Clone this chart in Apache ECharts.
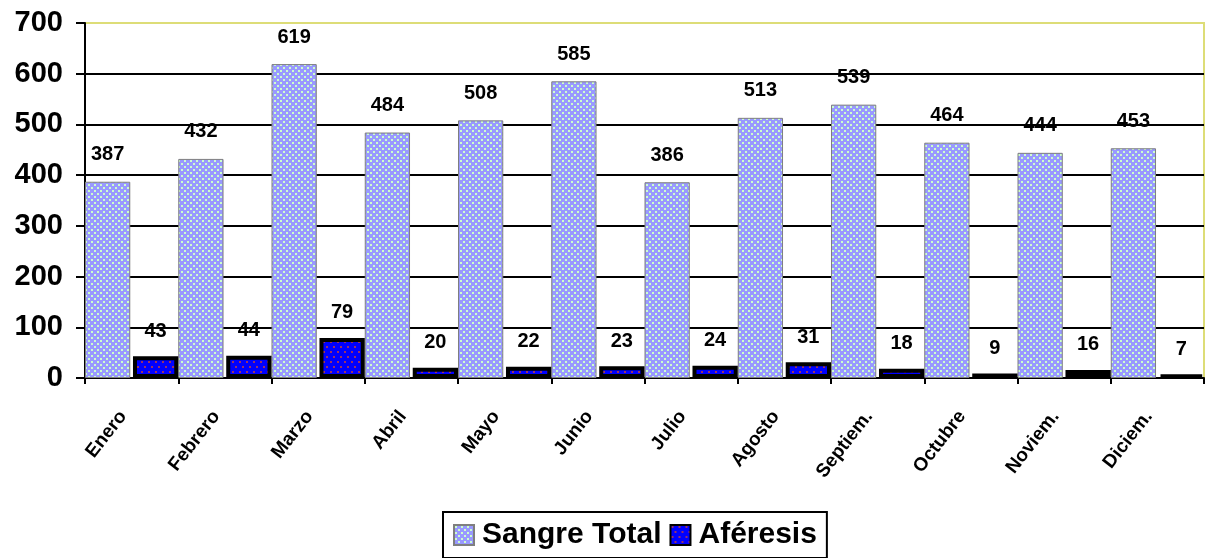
<!DOCTYPE html>
<html><head><meta charset="utf-8">
<script src="https://cdn.jsdelivr.net/npm/echarts@6/dist/echarts.min.js"></script>
<style>html,body{margin:0;padding:0;background:#fff}#c{width:1206px;height:558px}</style>
</head><body><div id="c"></div>
<script>
const months = ['Enero','Febrero','Marzo','Abril','Mayo','Junio','Julio','Agosto','Septiem.','Octubre','Noviem.','Diciem.'];
const sangreTotal = [387,432,619,484,508,585,386,513,539,464,444,453];
const aferesis = [43,44,79,20,22,23,24,31,18,9,16,7];
const yTicks = [0,100,200,300,400,500,600,700];

function makePattern(bg, dot, w, h, pts, d) {
  const c = document.createElement('canvas');
  c.width = w; c.height = h;
  const g = c.getContext('2d');
  g.fillStyle = bg; g.fillRect(0,0,w,h);
  g.fillStyle = dot;
  pts.forEach(p => g.fillRect(p[0], p[1], d, d));
  return {image: c, repeat: 'repeat'};
}
const patSangre = makePattern('#9999ff', '#ccffcc', 6, 6, [[1,1],[4,4]], 2);
const patAfer = makePattern('#0000ff', '#993366', 7, 10, [[1,1],[4,6]], 2);

const FONT = 'Liberation Sans, Arial, sans-serif';
const chart = echarts.init(document.getElementById('c'), null, {renderer:'canvas'});
chart.setOption({
  animation: false,
  backgroundColor: '#ffffff',
  grid: {left: 85, top: 23, right: 2, bottom: 180, show: true, borderColor: '#dddd77', borderWidth: 2, backgroundColor: 'transparent'},
  legend: {
    data: ['Sangre Total','Aféresis'],
    left: 443, top: 512,
    padding: [8, 10, 8, 10],
    itemWidth: 20, itemHeight: 20, itemGap: 8,
    borderColor: '#000', borderWidth: 2, backgroundColor: '#fff',
    icon: 'rect',
    textStyle: {fontFamily: FONT, fontWeight: 'bold', fontSize: 30, color: '#000', padding: [0,0,0,3]}
  },
  xAxis: {
    type: 'category', data: months,
    axisLine: {lineStyle: {color: '#000', width: 2}},
    axisTick: {show: true, length: 6, lineStyle: {color: '#000', width: 2}},
    axisLabel: {rotate: 52, margin: 24, padding: [0, 14, 0, 0], fontFamily: FONT, fontWeight: 'bold', fontSize: 19, color: '#000', interval: 0}
  },
  yAxis: {
    type: 'value', min: 0, max: 700, interval: 100,
    axisLine: {show: true, lineStyle: {color: '#000', width: 2}},
    axisTick: {show: true, length: 9, lineStyle: {color: '#000', width: 2}},
    axisLabel: {margin: 22, fontFamily: FONT, fontWeight: 'bold', fontSize: 29, color: '#000',
      formatter: v => yTicks.includes(v) ? String(v) : ''},
    splitLine: {show: true, lineStyle: {color: ['#000','#000','#000','#000','#000','#000','#000','#dddd77'], width: 2}}
  },
  series: [
    {
      name: 'Sangre Total', type: 'bar', data: sangreTotal,
      barCategoryGap: '0%', barGap: '6%',
      itemStyle: {color: patSangre, borderColor: '#7f7f7f', borderWidth: 1},
      label: {show: true, position: 'top', distance: 17, fontFamily: FONT, fontWeight: 'bold', fontSize: 20, color: '#000'}
    },
    {
      name: 'Aféresis', type: 'bar', data: aferesis,
      barCategoryGap: '0%', barGap: '6%',
      itemStyle: {color: patAfer, borderColor: '#000', borderWidth: 4},
      label: {show: true, position: 'top', distance: 15, fontFamily: FONT, fontWeight: 'bold', fontSize: 20, color: '#000'}
    }
  ]
});
</script></body></html>
